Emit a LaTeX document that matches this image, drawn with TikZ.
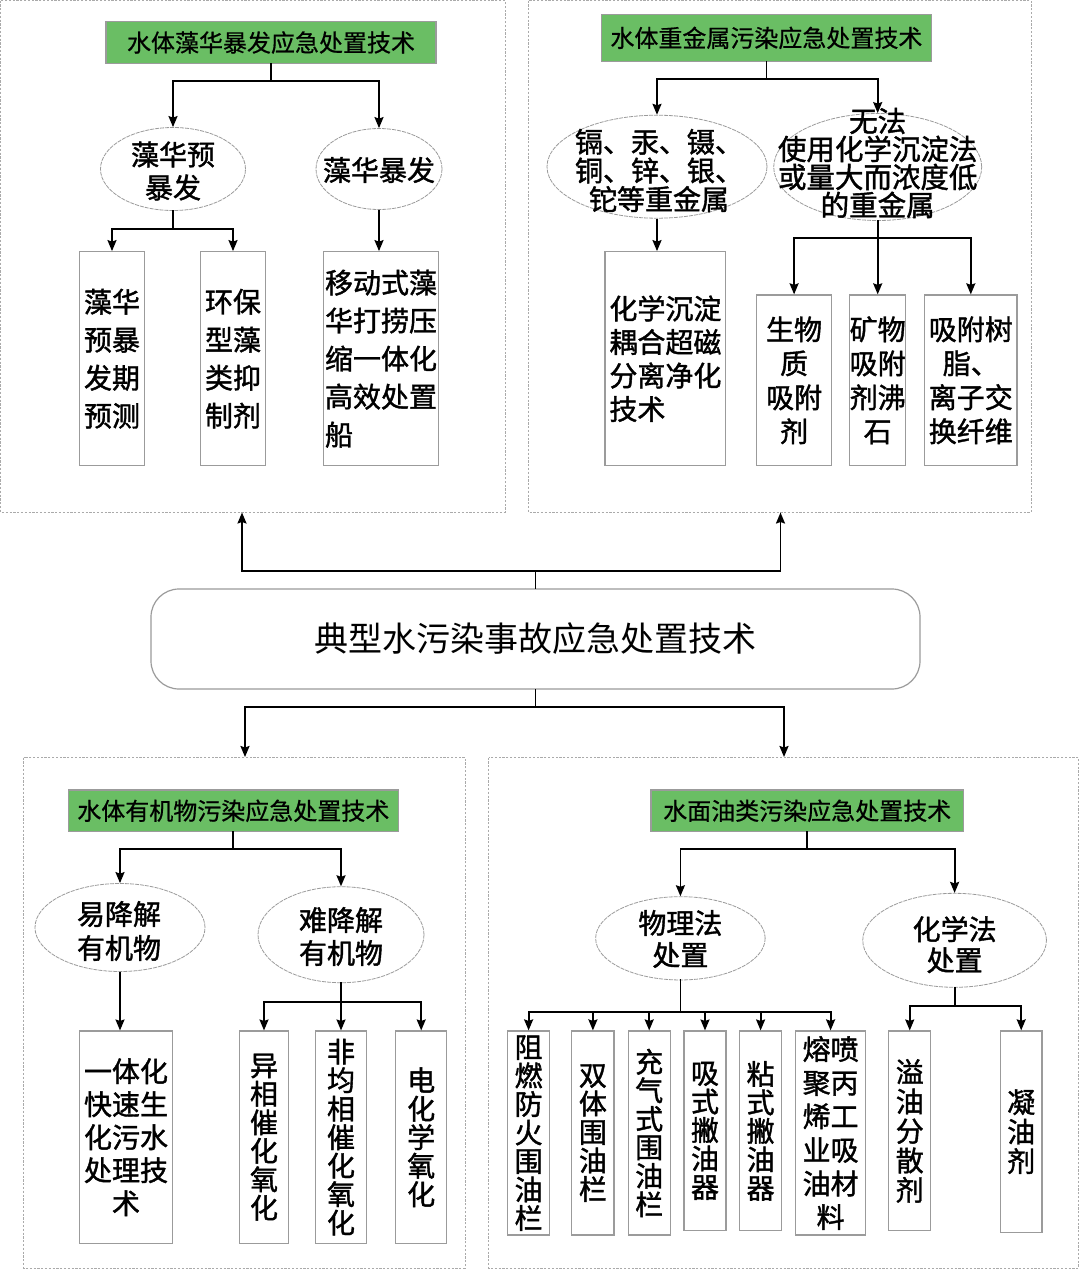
\documentclass[tikz,border=0pt]{standalone}
\usepackage{fontspec}
\newfontfamily\cjk{Noto Sans CJK SC}
\newfontfamily\cjkb[FakeBold=1.4]{Noto Sans CJK SC}
\newfontfamily\cjkm[FakeBold=0.6]{Noto Sans CJK SC}
\usetikzlibrary{shapes.geometric,arrows.meta}
\definecolor{tgreen}{RGB}{106,190,100}
\definecolor{bgray}{RGB}{155,155,155}
\definecolor{pgray}{RGB}{170,170,170}
\begin{document}
\begin{tikzpicture}[x=1pt,y=-1pt,
  panel/.style={draw=pgray, line width=0.9pt, dash pattern=on 2.2pt off 1.6pt},
  gtitle/.style={draw=bgray, fill=tgreen, line width=1.1pt, inner sep=0pt, font=\cjkm\fontsize{24}{28}\selectfont},
  ell/.style={ellipse, draw=bgray, line width=0.8pt, dash pattern=on 4pt off 1pt, inner sep=0pt},
  etext/.style={inner sep=0pt, align=center, font=\cjkb\fontsize{28}{33}\selectfont},
  leaf/.style={rectangle, draw=bgray, line width=1.2pt, inner sep=0pt, align=center, font=\cjkb\fontsize{28}{38}\selectfont},
  vleaf/.style={leaf, font=\cjkb\fontsize{28}{28.5}\selectfont},
  ln/.style={line width=1.8pt, black, line cap=rect},
  arr/.style={line width=1.8pt, black, -{Stealth[length=11pt,width=9pt,inset=1.5pt]}}
]
\useasboundingbox (0,0) rectangle (1080,1275);
\fill[white] (0,0) rectangle (1080,1275);

% panels
\draw[panel] (0.5,0.5) rectangle (505,512);
\draw[panel] (528,0.5) rectangle (1031,512);
\draw[panel] (23.5,757.5) rectangle (465,1268);
\draw[panel] (488.5,757.5) rectangle (1078.5,1268);

% central node
\node[draw=bgray, rounded corners=28pt, line width=1.2pt, minimum width=769pt, minimum height=100pt, inner sep=0pt,
      font=\cjk\fontsize{34}{40}\selectfont] (C) at (535.5,639) {典型水污染事故应急处置技术};
\coordinate (ct) at (535.5,571);
\coordinate (pTL) at (242,512.5);
\coordinate (pTR) at (780.5,512.5);
\draw[ln] (C.north) -- (ct);
\draw[arr] (ct) -| (pTL);
\draw[arr] (ct) -| (pTR);
\coordinate (cb) at (535.5,707.3);
\coordinate (pBL) at (245,757);
\coordinate (pBR) at (784,757);
\draw[ln] (C.south) -- (cb);
\draw[arr] (cb) -| (pBL);
\draw[arr] (cb) -| (pBR);

% ---------------- top-left: algal bloom
\node[gtitle, minimum width=330pt, minimum height=41.6pt] (T1) at (271,42.5) {水体藻华暴发应急处置技术};
\node[ell, minimum width=145pt, minimum height=83pt] (E1) at (173,169) {};
\node[etext] (E1t) at (173,171) {藻华预\\暴发};
\node[ell, minimum width=126pt, minimum height=81pt] (E2) at (379,169) {};
\node[etext] (E2t) at (379,170) {藻华暴发};
\node[leaf, minimum width=65pt, minimum height=214pt] (L1) at (112,358.7) {藻华\\预暴\\发期\\预测};
\node[leaf, minimum width=64.4pt, minimum height=214pt] (L2) at (233,358.7) {环保\\型藻\\类抑\\制剂};
\node[leaf, minimum width=114.3pt, minimum height=214pt, align=left] (L3) at (381,358.7) {移动式藻\\华打捞压\\缩一体化\\高效处置\\船};
\coordinate (j1) at (271,81);
\draw[ln] (T1.south) -- (j1);
\draw[arr] (j1) -| (E1.north);
\draw[arr] (j1) -| (E2.north);
\coordinate (jE1) at (173,228.7);
\draw[ln] (E1.south) -- (jE1);
\draw[arr] (jE1) -| (L1.north);
\draw[arr] (jE1) -| (L2.north);
\draw[arr] (E2.south) -- (E2.south |- L3.north);

% ---------------- top-right: heavy metals
\node[gtitle, minimum width=330pt, minimum height=47.7pt] (T2) at (766.4,37.9) {水体重金属污染应急处置技术};
\node[ell, minimum width=220pt, minimum height=103pt] (EA) at (657,166.7) {};
\node[etext, font=\cjkb\fontsize{28}{28.7}\selectfont] (EAt) at (659,170.5) {镉、汞、镊、\\铜、锌、银、\\铊等重金属};
\node[ell, minimum width=208pt, minimum height=107pt] (EB) at (877.7,167) {};
\node[etext, font=\cjkb\fontsize{28.5}{28}\selectfont] (EBt) at (877.7,163) {无法\\使用化学沉淀法\\或量大而浓度低\\的重金属};
\node[leaf, minimum width=120.7pt, minimum height=214pt, align=left, font=\cjkb\fontsize{28}{33.5}\selectfont] (M1) at (665.4,358.7) {化学沉淀\\耦合超磁\\分离净化\\技术};
\node[leaf, minimum width=74.6pt, minimum height=170.7pt, font=\cjkb\fontsize{28}{34}\selectfont] (N1) at (794.1,380.3) {生物\\质\\吸附\\剂};
\node[leaf, minimum width=55.7pt, minimum height=170.7pt, font=\cjkb\fontsize{28}{34}\selectfont] (N2) at (877.7,380.3) {矿物\\吸附\\剂沸\\石};
\node[leaf, minimum width=92.4pt, minimum height=170.7pt, font=\cjkb\fontsize{28}{34}\selectfont] (N3) at (970.8,380.3) {吸附树\\脂、\\离子交\\换纤维};
\coordinate (j2) at (766.4,79);
\draw[ln] (T2.south) -- (j2);
\draw[arr] (j2) -| (EA.north);
\draw[arr] (j2) -| (EB.north);
\draw[arr] (EA.south) -- (EA.south |- M1.north);
\coordinate (jB) at (877.7,238.3);
\draw[ln] (EB.south) -- (jB);
\draw[arr] (jB) -| (N1.north);
\draw[arr] (jB) -- (N2.north);
\draw[arr] (jB) -| (N3.north);

% ---------------- bottom-left: organics
\node[gtitle, minimum width=330pt, minimum height=41.7pt] (T3) at (233.3,810.8) {水体有机物污染应急处置技术};
\node[ell, minimum width=170pt, minimum height=88pt] (F1) at (120,927.5) {};
\node[etext, font=\cjkb\fontsize{28}{34}\selectfont] (F1t) at (119,931) {易降解\\有机物};
\node[ell, minimum width=166pt, minimum height=96pt] (F2) at (341,934.7) {};
\node[etext, font=\cjkb\fontsize{28}{33}\selectfont] (F2t) at (341,936.5) {难降解\\有机物};
\node[leaf, minimum width=93.4pt, minimum height=212.3pt, font=\cjkb\fontsize{28}{33}\selectfont] (P1) at (126,1137.2) {一体化\\快速生\\化污水\\处理技\\术};
\node[vleaf, minimum width=49.4pt, minimum height=212.3pt] (Q1) at (264,1137.2) {异\\相\\催\\化\\氧\\化};
\node[vleaf, minimum width=51.3pt, minimum height=212.3pt] (Q2) at (341,1137.2) {非\\均\\相\\催\\化\\氧\\化};
\node[vleaf, minimum width=51pt, minimum height=212.3pt] (Q3) at (421.2,1137.2) {电\\化\\学\\氧\\化};
\coordinate (j3) at (233.3,849.3);
\draw[ln] (T3.south) -- (j3);
\draw[arr] (j3) -| (F1.north);
\draw[arr] (j3) -| (F2.north);
\draw[arr] (F1.south) -- (F1.south |- P1.north);
\coordinate (jF2) at (341,1001.7);
\draw[ln] (F2.south) -- (jF2);
\draw[arr] (jF2) -| (Q1.north);
\draw[arr] (jF2) -- (Q2.north);
\draw[arr] (jF2) -| (Q3.north);

% ---------------- bottom-right: oil
\node[gtitle, minimum width=312.4pt, minimum height=41.7pt] (T4) at (807.2,810.8) {水面油类污染应急处置技术};
\node[ell, minimum width=169.5pt, minimum height=83.3pt] (G1) at (680.4,938.3) {};
\node[etext, font=\cjkb\fontsize{28}{32}\selectfont] (G1t) at (680.4,939) {物理法\\处置};
\node[ell, minimum width=183.7pt, minimum height=94pt] (G2) at (954.6,940.3) {};
\node[etext, font=\cjkb\fontsize{28}{31}\selectfont] (G2t) at (954.6,944.6) {化学法\\处置};
\node[vleaf, minimum width=42pt, minimum height=204pt] (R1) at (528.6,1133) {阻\\燃\\防\\火\\围\\油\\栏};
\node[vleaf, minimum width=42.2pt, minimum height=204pt] (R2) at (592.9,1133) {双\\体\\围\\油\\栏};
\node[vleaf, minimum width=42.1pt, minimum height=204pt] (R3) at (649.2,1133) {充\\气\\式\\围\\油\\栏};
\node[vleaf, minimum width=42pt, minimum height=199.7pt] (R4) at (705,1130.9) {吸\\式\\撇\\油\\器};
\node[vleaf, minimum width=42.1pt, minimum height=199.7pt] (R5) at (760.6,1130.9) {粘\\式\\撇\\油\\器};
\node[leaf, minimum width=69.7pt, minimum height=204pt, font=\cjkb\fontsize{28}{33.6}\selectfont] (R6) at (830.6,1133) {熔喷\\聚丙\\烯工\\业吸\\油材\\料};
\node[vleaf, minimum width=42.1pt, minimum height=199.7pt, font=\cjkb\fontsize{28}{29.5}\selectfont] (S1) at (909.75,1130.9) {溢\\油\\分\\散\\剂};
\node[vleaf, minimum width=41.5pt, minimum height=201.3pt, font=\cjkb\fontsize{28}{29.5}\selectfont] (S2) at (1021.2,1131.6) {凝\\油\\剂};
\coordinate (j4) at (807.2,849.3);
\draw[ln] (T4.south) -- (j4);
\draw[arr] (j4) -| (G1.north);
\draw[arr] (j4) -| (G2.north);
\coordinate (jG1) at (680.4,1012.3);
\draw[ln] (G1.south) -- (jG1);
\foreach \n in {R1,R2,R3,R4,R5,R6} {\draw[arr] (jG1) -| (\n.north);}
\coordinate (jG2) at (954.6,1006);
\draw[ln] (G2.south) -- (jG2);
\draw[arr] (jG2) -| (S1.north);
\draw[arr] (jG2) -| (S2.north);
\end{tikzpicture}
\end{document}
